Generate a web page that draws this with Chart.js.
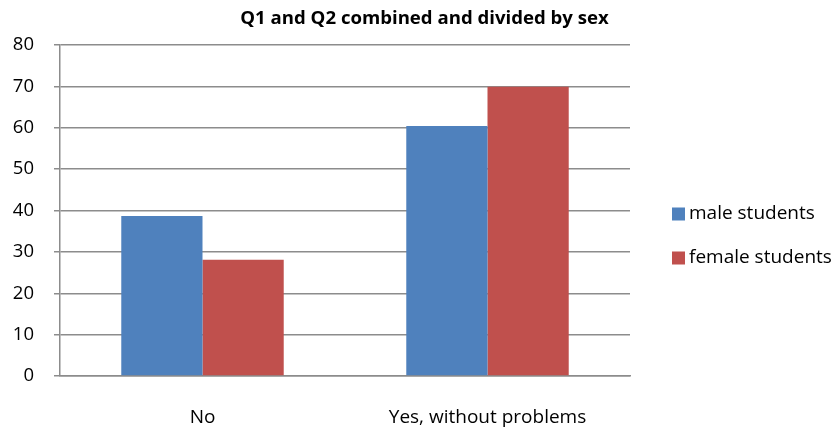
<!DOCTYPE html>
<html>
<head>
<meta charset="utf-8">
<script src="https://cdn.jsdelivr.net/npm/chart.js@4.4.1/dist/chart.umd.min.js"></script>
<style>
    html, body { margin: 0; padding: 0; background: #fff; }
    #wrap { width: 837px; height: 428px; }
</style>
</head>
<body>
<div id="wrap"><canvas id="chart-sex"></canvas></div>
<script>
var categories = ['No', 'Yes, without problems'];
var maleValues = [38.7, 60.4];
var femaleValues = [28.1, 69.9];
var seriesNames = ['male students', 'female students'];
var yTicks = [0, 10, 20, 30, 40, 50, 60, 70, 80];
var chartTitle = 'Q1 and Q2 combined and divided by sex';

var fontFamily = '"Open Sans", "Liberation Sans", sans-serif';

// titulo y legend dibujados a mano (fuera del area del grafico)
var sideLegend = {
    id: 'sideLegend',
    afterDraw: function(chart) {
        let ctx = chart.ctx;
        ctx.save();
        ctx.fillStyle = '#000';
        ctx.font = 'bold 18.6px ' + fontFamily;
        ctx.textBaseline = 'middle';
        ctx.textAlign = 'center';
        ctx.fillText(chartTitle, 424.5, 19);

        ctx.font = '19px ' + fontFamily;
        ctx.textAlign = 'left';
        chart.data.datasets.forEach((ds, i) => {
            let y = 214 + i * 44;
            ctx.fillStyle = ds.backgroundColor;
            ctx.fillRect(672, y - 6.5, 13, 13);
            ctx.fillStyle = '#000';
            ctx.fillText(ds.label, 689, y);
        });
        ctx.restore();
    }
};

new Chart(document.getElementById('chart-sex').getContext('2d'), {
    type: 'bar',
    data: {
        labels: categories,
        datasets: [{
            label: seriesNames[0],
            data: maleValues,
            backgroundColor: '#4F81BD',
            borderWidth: 0,
            barPercentage: 1.0,
            categoryPercentage: 0.57
        },
        {
            label: seriesNames[1],
            data: femaleValues,
            backgroundColor: '#C0504D',
            borderWidth: 0,
            barPercentage: 1.0,
            categoryPercentage: 0.57
        }]
    },
    options: {
        responsive: true,
        maintainAspectRatio: false,
        animation: false,
        layout: {
            padding: { left: 0, right: 207, top: 45, bottom: 0 }
        },
        plugins: {
            legend: { display: false },
            tooltip: { enabled: false },
            title: { display: false }
        },
        scales: {
            y: {
                min: 0,
                max: 80,
                afterBuildTicks: function(axis) {
                    axis.ticks = yTicks.map(v => ({ value: v }));
                },
                afterFit: function(axis) {
                    axis.width = 60;
                },
                grid: {
                    color: '#8c8c8c',
                    lineWidth: 1.5,
                    drawTicks: true,
                    tickLength: 6
                },
                border: { color: '#8c8c8c', width: 1.5 },
                ticks: {
                    color: '#000',
                    padding: 20,
                    font: { family: fontFamily, size: 18.5 }
                }
            },
            x: {
                afterFit: function(axis) {
                    axis.height = 52;
                },
                grid: { display: false },
                border: { color: '#8c8c8c', width: 1.5 },
                ticks: {
                    color: '#000',
                    padding: 22,
                    font: { family: fontFamily, size: 19 }
                }
            }
        }
    },
    plugins: [sideLegend]
});
</script>
</body>
</html>
